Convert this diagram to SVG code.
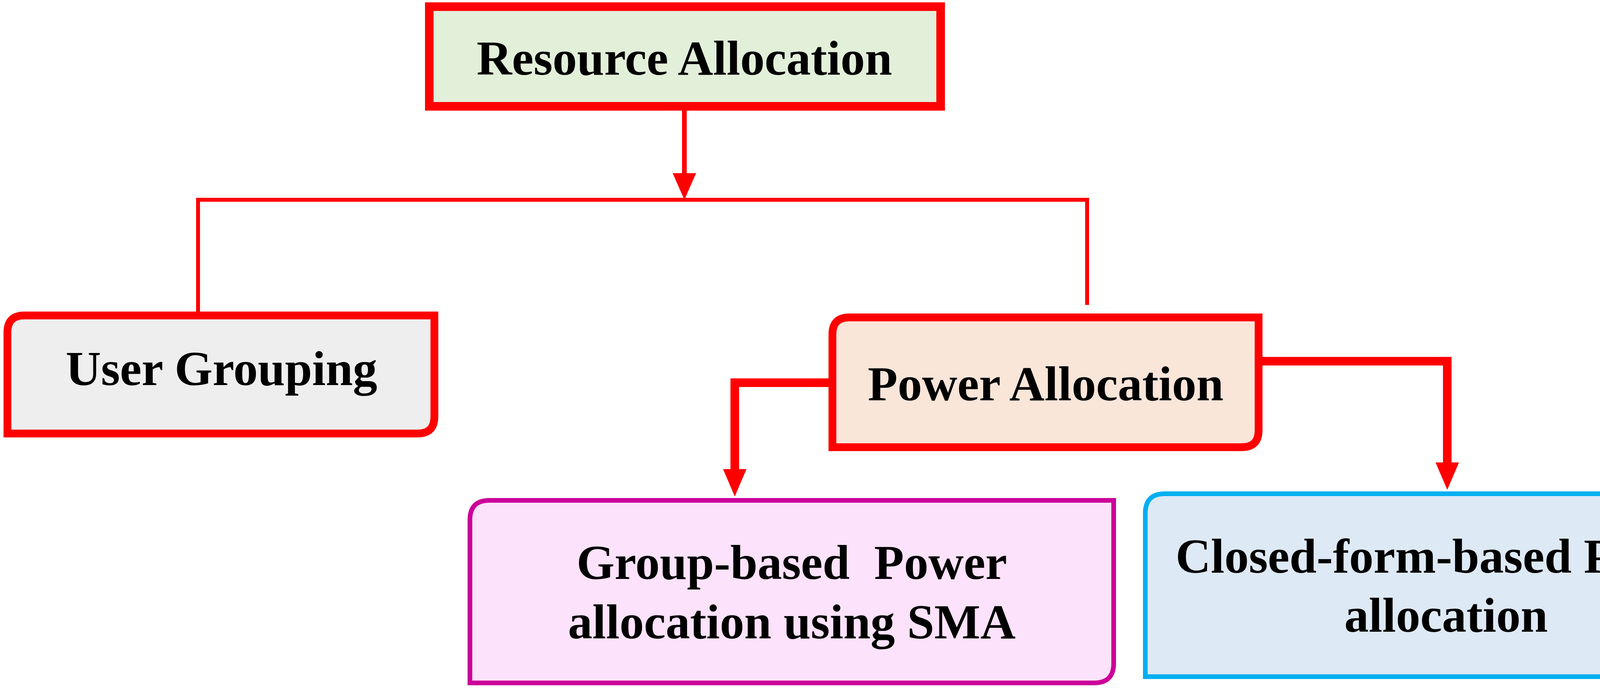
<svg xmlns="http://www.w3.org/2000/svg" width="4489" height="1760" viewBox="0 0 4489 1760">
<style>
text{font-family:"Liberation Serif","Times New Roman",serif;font-weight:bold;font-size:125px;fill:#000;text-anchor:middle}
.ln{fill:none;stroke:#ff0000;stroke-linejoin:miter}
.ah{fill:#ff0000}
</style>
<rect width="4489" height="1760" fill="#fff"/>
<g id="resource-allocation">
<rect x="1099" y="17" width="1309" height="255" fill="#e2efd9" stroke="#ff0000" stroke-width="22"/>
<text x="1752" y="191">Resource Allocation</text>
</g>
<g id="connectors">
<path class="ln" d="M1752 283V450" stroke-width="12"/>
<polygon class="ah" points="1722,443 1782,443 1752,511"/>
<path class="ln" d="M507 797V511H2783V780" stroke-width="10"/>
<path class="ln" d="M2121 979H1881V1210" stroke-width="22"/>
<path class="ln" d="M1881 990V1210" stroke-width="12"/>
<polygon class="ah" points="1851,1200 1911,1200 1881,1270"/>
<path class="ln" d="M3232 924H3705V1190" stroke-width="22"/>
<path class="ln" d="M3705 935V1190" stroke-width="12"/>
<polygon class="ah" points="3675,1183 3735,1183 3705,1253"/>
</g>
<g id="user-grouping">
<path d="M19 1109V850Q19 807 62 807H1112V1066Q1112 1109 1069 1109Z" fill="#eeeeee" stroke="#ff0000" stroke-width="20"/>
<text x="567" y="985">User Grouping</text>
</g>
<g id="power-allocation">
<path d="M2131 1144V855Q2131 812 2174 812H3222V1101Q3222 1144 3179 1144Z" fill="#fae5d9" stroke="#ff0000" stroke-width="20"/>
<text x="2677" y="1024">Power Allocation</text>
</g>
<g id="group-based">
<path d="M1203 1747V1330Q1203 1280 1253 1280H2851V1697Q2851 1747 2801 1747Z" fill="#fde2fb" stroke="#cc0099" stroke-width="12"/>
<text x="2027" y="1481" xml:space="preserve">Group-based  Power</text>
<text x="2027" y="1633">allocation using SMA</text>
</g>
<g id="closed-form">
<path d="M2932 1731V1313Q2932 1263 2982 1263H4475V1681Q4475 1731 4425 1731Z" fill="#dde9f5" stroke="#00b0f0" stroke-width="12"/>
<text x="3702" y="1465">Closed-form-based Power</text>
<text x="3702" y="1616">allocation</text>
</g>
</svg>
